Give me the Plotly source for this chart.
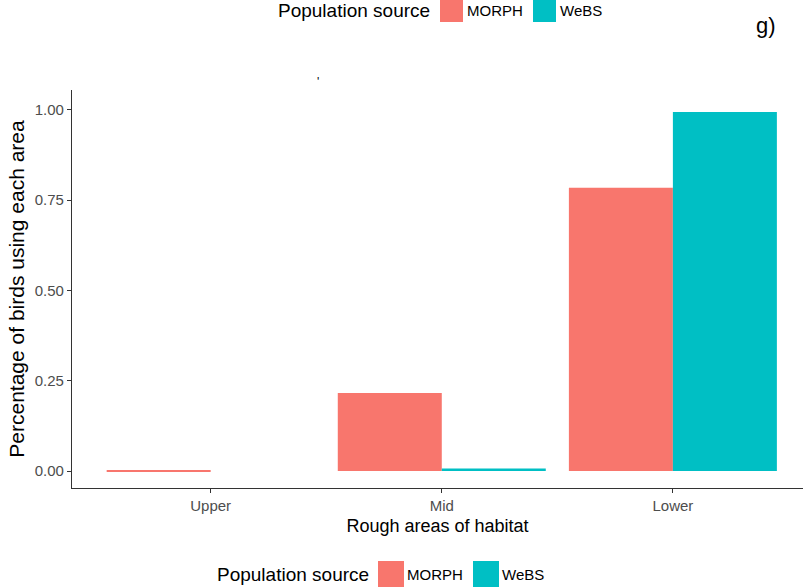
import plotly.graph_objects as go

categories = ["Upper", "Mid", "Lower"]
morph = [0.0008, 0.216, 0.784]
webs = [0.0, 0.007, 0.994]
series_names = ["MORPH", "WeBS"]
colors = ["#F8766D", "#00BFC4"]

fig = go.Figure()
fig.add_trace(go.Bar(x=categories, y=morph, name=series_names[0],
                     marker=dict(color=colors[0], line=dict(width=0))))
fig.add_trace(go.Bar(x=categories, y=webs, name=series_names[1],
                     marker=dict(color=colors[1], line=dict(width=0))))

W, H = 803, 588
ml, mr, mt, mb = 72, 0, 90, 100
PW, PH = W - ml - mr, H - mt - mb


def px(x):
    return (x - ml) / PW


def py(y):
    return (H - mb - y) / PH


shapes = []
annotations = []


def add_legend(title_x, y_center, box_w, box_h, items, title_size, item_size):
    annotations.append(dict(text="Population source", x=px(title_x), y=py(y_center),
                            xref="paper", yref="paper", xanchor="left", yanchor="middle",
                            showarrow=False, font=dict(size=title_size, color="black")))
    for (bx, tx, name, col) in items:
        shapes.append(dict(type="rect", xref="paper", yref="paper",
                           x0=px(bx), x1=px(bx + box_w),
                           y0=py(y_center + box_h / 2), y1=py(y_center - box_h / 2),
                           fillcolor=col, line=dict(width=0)))
        annotations.append(dict(text=name, x=px(tx), y=py(y_center),
                                xref="paper", yref="paper", xanchor="left", yanchor="middle",
                                showarrow=False, font=dict(size=item_size, color="black")))


add_legend(276, 10, 23, 24,
           [(440, 465, series_names[0], colors[0]), (533, 558, series_names[1], colors[1])],
           19, 15)
add_legend(215, 574, 26, 26,
           [(378, 405, series_names[0], colors[0]), (473, 500, series_names[1], colors[1])],
           19, 15)

annotations.append(dict(text="g)", x=px(766), y=py(25), xref="paper", yref="paper",
                        xanchor="center", yanchor="middle", showarrow=False,
                        font=dict(size=22, color="black")))
annotations.append(dict(text="'", x=px(318), y=py(82), xref="paper", yref="paper",
                        xanchor="center", yanchor="middle", showarrow=False,
                        font=dict(size=12, color="black")))

fig.update_layout(
    width=W, height=H,
    margin=dict(l=ml, r=mr, t=mt, b=mb, pad=0),
    paper_bgcolor="white", plot_bgcolor="white",
    barmode="group", bargap=0.1, bargroupgap=0,
    showlegend=False,
    font=dict(family="Liberation Sans, Arial, sans-serif", color="black"),
    shapes=shapes, annotations=annotations,
    xaxis=dict(range=[-0.6, 2.563], showline=True, linecolor="#333333", linewidth=1.2,
               ticks="outside", ticklen=4, tickcolor="#333333", showgrid=False,
               tickfont=dict(size=15, color="#4D4D4D"),
               title=dict(text="Rough areas of habitat", font=dict(size=18, color="black"), standoff=6)),
    yaxis=dict(range=[-0.047, 1.055], showline=True, linecolor="#333333", linewidth=1.2,
               ticks="outside", ticklen=4, tickcolor="#333333", showgrid=False, zeroline=False,
               tickvals=[0, 0.25, 0.5, 0.75, 1.0], ticktext=["0.00", "0.25", "0.50", "0.75", "1.00"],
               tickfont=dict(size=15, color="#4D4D4D"),
               title=dict(text="Percentage of birds using each area", font=dict(size=21, color="black"), standoff=4)),
)

fig.write_html("out.html", config={"displayModeBar": False},
               post_script="document.body.style.margin='0';document.body.style.overflow='hidden';")
